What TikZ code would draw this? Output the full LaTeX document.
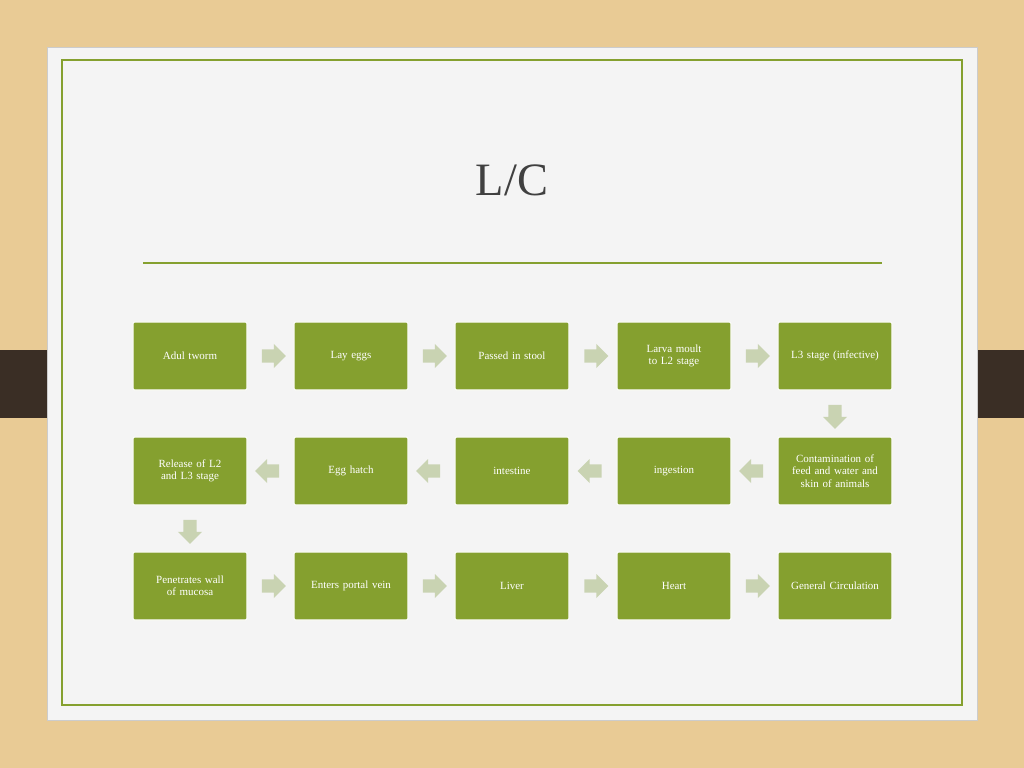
\documentclass[tikz,border=0pt]{standalone}
\usepackage{fontspec}
\setmainfont{Liberation Serif}
\usetikzlibrary{shapes.arrows,calc}
\definecolor{wood}{HTML}{E9CB95}
\definecolor{slide}{HTML}{F4F4F4}
\definecolor{boxgreen}{HTML}{85A02F}
\definecolor{arrowgreen}{HTML}{C9D3B2}
\definecolor{tab}{HTML}{3A2E25}
\tikzset{
  stage/.style={draw=white,line width=0.8pt,fill=boxgreen,text=white,minimum width=2.85cm,
    minimum height=1.7cm,text width=2.45cm,align=center,font=\fontsize{7.8}{8.8}\selectfont,rounded corners=1pt},
  flow/.style={single arrow,fill=arrowgreen,minimum height=0.6cm,minimum width=0.6cm,
    single arrow head extend=0.08cm,inner sep=0.09cm}
}
\begin{document}
\begin{tikzpicture}[x=0.025cm,y=-0.025cm]
\useasboundingbox (0,0) rectangle (1024,768);
\fill[wood] (0,0) rectangle (1024,768);
\fill[tab] (0,350) rectangle (1024,418);
\fill[slide,draw=gray!40] (47,47) rectangle (977,720);
\draw[boxgreen,line width=0.8pt] (62,60) rectangle (962,705);
\node[font=\fontsize{33}{36}\selectfont,text=black!75] (title) at (512,180) {L/C};
\draw[boxgreen,line width=0.8pt] (143,263) -- (882,263);
% Row 1
\node[stage] (a1) at (190,356) {Adul tworm};
\node[stage] (a2) at (351,356) {Lay eggs};
\node[stage] (a3) at (512,356) {Passed in stool};
\node[stage] (a4) at (674,356) {Larva moult to L2 stage};
\node[stage] (a5) at (835,356) {L3 stage (infective)};
% Row 2
\node[stage] (b5) at (835,471) {Contamination of feed and water and skin of animals};
\node[stage] (b4) at (674,471) {ingestion};
\node[stage] (b3) at (512,471) {intestine};
\node[stage] (b2) at (351,471) {Egg hatch};
\node[stage] (b1) at (190,471) {Release of  L2 and L3 stage\\[8pt]};
% Row 3
\node[stage] (c1) at (190,586) {Penetrates wall of mucosa\\[8pt]};
\node[stage] (c2) at (351,586) {Enters portal vein\\[2pt]};
\node[stage] (c3) at (512,586) {Liver};
\node[stage] (c4) at (674,586) {Heart};
\node[stage] (c5) at (835,586) {General Circulation};
% block arrows
\foreach \p/\q in {a1/a2,a2/a3,a3/a4,a4/a5,c1/c2,c2/c3,c3/c4,c4/c5}
  \node[flow] (f\p) at ($(\p)!0.5!(\q)$) {};
\foreach \p/\q in {b5/b4,b4/b3,b3/b2,b2/b1}
  \node[flow,shape border rotate=180] (f\p) at ($(\p)!0.5!(\q)$) {};
\node[flow,shape border rotate=270] (fa5) at ($(a5)!0.5!(b5)$) {};
\node[flow,shape border rotate=270] (fb1) at ($(b1)!0.5!(c1)$) {};
\end{tikzpicture}
\end{document}
